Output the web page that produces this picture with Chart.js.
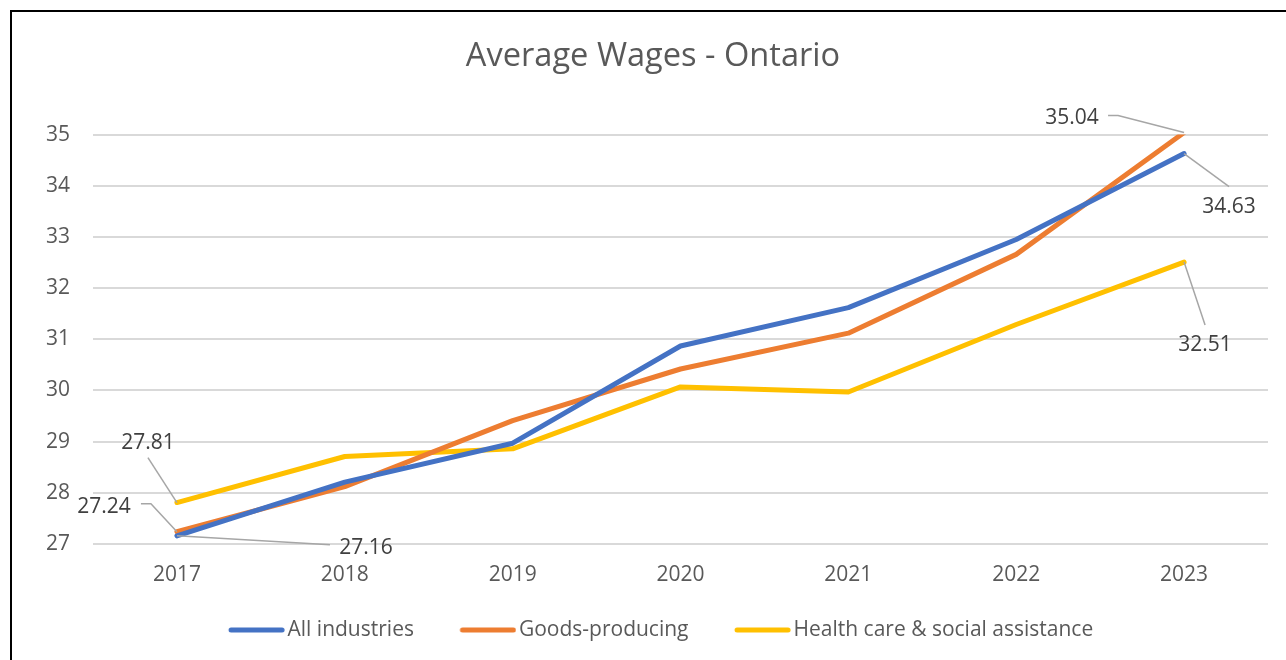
<!DOCTYPE html>
<html>
<head>
<meta charset="utf-8">
<script src="https://cdn.jsdelivr.net/npm/chart.js@4"></script>
<style>
  html, body { margin: 0; padding: 0; background: #ffffff; }
  #wrap { position: relative; width: 1286px; height: 660px; }
  canvas { display: block; }
</style>
</head>
<body>
<div id="wrap"><canvas id="c" width="1286" height="660"></canvas></div>
<script>
const categories = ['2017', '2018', '2019', '2020', '2021', '2022', '2023'];
const allIndustries = [27.16, 28.21, 28.97, 30.87, 31.62, 32.95, 34.63];
const goodsProducing = [27.24, 28.12, 29.41, 30.42, 31.12, 32.66, 35.04];
const healthCare = [27.81, 28.71, 28.86, 30.07, 29.97, 31.29, 32.51];
const seriesNames = ['All industries', 'Goods-producing', 'Health care & social assistance'];
const yTicks = [27, 28, 29, 30, 31, 32, 33, 34, 35];

const FONT = "'Open Sans', 'Noto Sans', sans-serif";
const TEXT = '#595959';
const colors = ['#4472C4', '#ED7D31', '#FFC000'];
const seriesData = [allIndustries, goodsProducing, healthCare];

// Which points carry a data label, and where the label sits (styling offsets)
const labelSpecs = [
  { ds: 0, i: 0, tx: 189, ty: 12, path: [[0, 0], [153, 9]] },
  { ds: 1, i: 0, tx: -73, ty: -25, path: [[0, 0], [-26, -28], [-36, -28]] },
  { ds: 2, i: 0, tx: -29, ty: -60, path: [[0, 0], [-29, -45]] },
  { ds: 1, i: 6, tx: -112, ty: -15, path: [[0, 0], [-66, -17], [-76, -17]] },
  { ds: 0, i: 6, tx: 45, ty: 53, path: [[0, 0], [45, 33]] },
  { ds: 2, i: 6, tx: 21, ty: 83, path: [[0, 0], [21, 63]] }
];

const labelPlugin = {
  id: 'leaderLabels',
  afterDatasetsDraw(chart) {
    const ctx = chart.ctx;
    ctx.save();
    labelSpecs.forEach(s => {
      const pt = chart.getDatasetMeta(s.ds).data[s.i];
      const v = chart.data.datasets[s.ds].data[s.i];
      ctx.beginPath();
      ctx.strokeStyle = '#a6a6a6';
      ctx.lineWidth = 1.5;
      s.path.forEach((p, k) => {
        const x = pt.x + p[0], y = pt.y + p[1];
        if (k === 0) ctx.moveTo(x, y); else ctx.lineTo(x, y);
      });
      ctx.stroke();
      ctx.fillStyle = '#404040';
      ctx.font = "21px " + FONT;
      ctx.textAlign = 'center';
      ctx.textBaseline = 'middle';
      ctx.fillText(v.toFixed(2), pt.x + s.tx, pt.y + s.ty);
    });
    ctx.restore();
  }
};

const framePlugin = {
  id: 'frame',
  beforeDraw(chart) {
    const ctx = chart.ctx;
    ctx.save();
    ctx.fillStyle = '#ffffff';
    ctx.fillRect(0, 0, chart.width, chart.height);
    ctx.strokeStyle = '#000000';
    ctx.lineWidth = 2;
    ctx.beginPath();
    ctx.moveTo(11, chart.height);
    ctx.lineTo(11, 11);
    ctx.lineTo(chart.width, 11);
    ctx.stroke();
    ctx.restore();
  }
};

// Legend swatch: a short thick rounded line, drawn into a small canvas
function makeSwatch(color) {
  const c = document.createElement('canvas');
  c.width = 80; c.height = 10;
  const g = c.getContext('2d');
  g.strokeStyle = color;
  g.lineWidth = 5;
  g.lineCap = 'round';
  g.beginPath();
  g.moveTo(26.1, 5);
  g.lineTo(77.1, 5);
  g.stroke();
  return c;
}
const swatches = colors.map(makeSwatch);

new Chart(document.getElementById('c'), {
  type: 'line',
  data: {
    labels: categories,
    datasets: seriesData.map((d, k) => ({
      label: seriesNames[k],
      data: d,
      borderColor: colors[k],
      backgroundColor: colors[k],
      borderWidth: 5,
      borderCapStyle: 'round',
      borderJoinStyle: 'round',
      pointRadius: 0,
      pointHoverRadius: 0,
      tension: 0,
      fill: false
    }))
  },
  options: {
    responsive: false,
    animation: false,
    events: [],
    layout: { padding: { left: 38, right: 18, top: 0, bottom: 9.5 } },
    plugins: {
      title: {
        display: true,
        text: 'Average Wages - Ontario',
        color: TEXT,
        font: { family: FONT, size: 32.6, weight: 'normal', lineHeight: 1.2 },
        padding: { top: 37.5, bottom: 58 }
      },
      legend: {
        display: true,
        position: 'bottom',
        labels: {
          color: TEXT,
          font: { family: FONT, size: 21 },
          usePointStyle: true,
          pointStyleWidth: 64.2,
          padding: 30.3,
          generateLabels(chart) {
            const items = Chart.defaults.plugins.legend.labels.generateLabels(chart);
            items.forEach((it, k) => { it.pointStyle = swatches[k]; });
            return items;
          }
        }
      },
      tooltip: { enabled: false }
    },
    scales: {
      x: {
        offset: true,
        grid: { display: false, drawTicks: false },
        border: { display: false },
        ticks: { color: TEXT, font: { family: FONT, size: 21, lineHeight: 1.2 }, padding: 18, maxRotation: 0, autoSkip: false },
        afterFit(scale) { scale.height = 45.2; }
      },
      y: {
        min: yTicks[0],
        max: yTicks[yTicks.length - 1],
        grid: { color: '#d9d9d9', lineWidth: 2, drawTicks: false },
        border: { display: false },
        afterBuildTicks(scale) { scale.ticks = yTicks.map(v => ({ value: v })); },
        ticks: { color: TEXT, font: { family: FONT, size: 21 }, padding: 23 },
        afterFit(scale) { scale.width = 55; }
      }
    }
  },
  plugins: [framePlugin, labelPlugin]
});
</script>
</body>
</html>
